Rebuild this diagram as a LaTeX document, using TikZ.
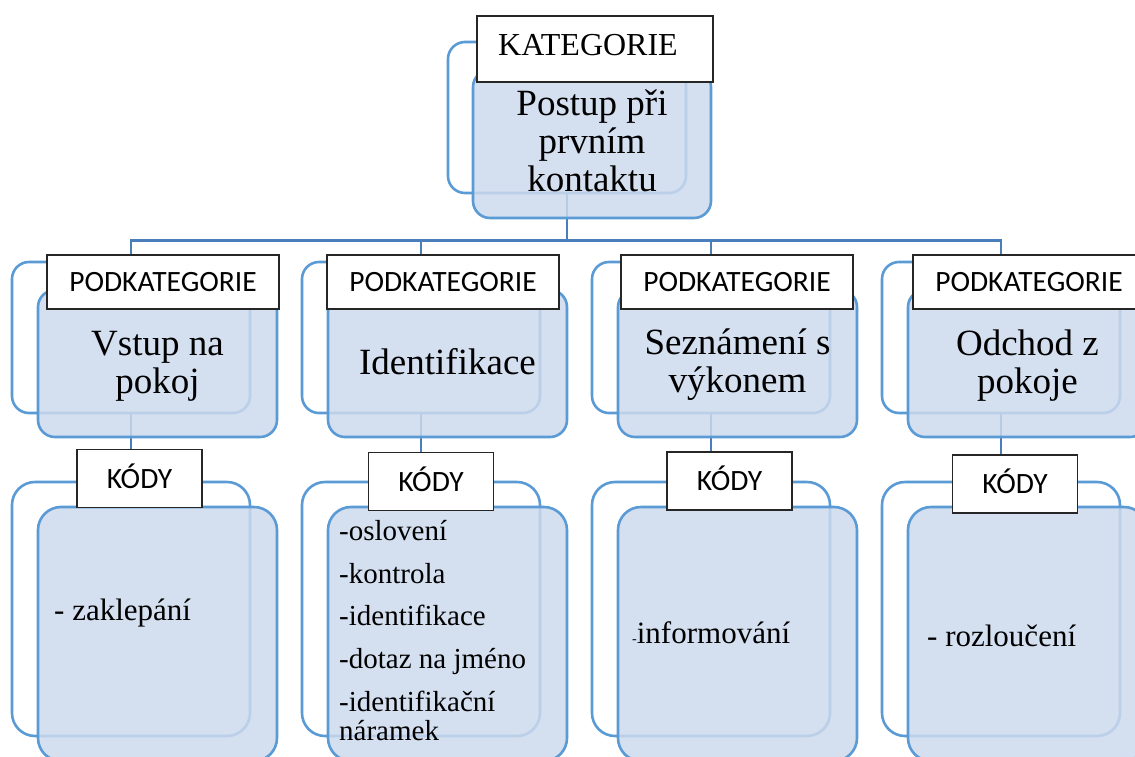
\documentclass[tikz,border=0pt]{standalone}
\usepackage{fontspec}
\setmainfont{Liberation Serif}
\newfontfamily\labelfont{Carlito}
\definecolor{linkblue}{RGB}{74,126,187}
\definecolor{edgeblue}{RGB}{91,155,213}
\definecolor{fillblue}{RGB}{204,217,237}
\tikzset{
  link/.style={draw=linkblue, line width=2.8pt},
  backbox/.style={rectangle, draw=edgeblue, line width=2.6pt, rounded corners=17pt,
    minimum width=238pt, inner sep=0pt},
  frontbox/.style={rectangle, draw=edgeblue, line width=2.6pt, rounded corners=17pt,
    fill=fillblue, fill opacity=0.85, minimum width=239pt, inner sep=0pt},
  tag/.style={rectangle, draw=black!85, line width=1.3pt, fill=white, inner sep=0pt,
    font=\labelfont\fontsize{29.5}{32}\selectfont, text height=19pt, text depth=0pt},
  big/.style={font=\fontsize{37}{38}\selectfont, align=center, inner sep=0pt},
  code/.style={inner sep=0pt, anchor=base west},
}
\begin{document}
\begin{tikzpicture}[x=1pt,y=-1pt]
\useasboundingbox (0,0) rectangle (1135,756);
\clip (0,0) rectangle (1135,756);

% category: outline behind, filled box in front, label on top
\node[backbox, minimum height=151pt] (catB) at (567,117.5) {};

% sub-categories and code groups, back outlines
\foreach \i/\L in {1/131, 2/421, 3/711, 4/1001} {
  \node[backbox, minimum height=151pt] (p\i B) at (\L,337.5) {};
  \node[backbox, rounded corners=23pt, minimum height=254pt] (k\i B) at (\L,609) {};
}

% connectors
\draw[link] (catB.south) -- ++(0,46) coordinate (bus);
\foreach \i in {1,2,3,4} {
  \draw[link] (bus) -| (p\i B.north);
  \draw[link] (p\i B.south) -- (k\i B.north);
}

% filled front boxes
\node[frontbox, minimum width=238pt, minimum height=148pt] (catF) at (592,144) {};
\foreach \i/\L in {1/131, 2/421, 3/711, 4/1001} {
  \node[frontbox, minimum height=147pt] (p\i F) at (\L+26.5,363.5) {};
  \node[frontbox, rounded corners=23pt, minimum height=254pt] (k\i F) at (\L+26.5,634) {};
}

% labels
\node[tag, minimum width=236pt, minimum height=66pt] (catL) at (595,49) {};
\node[inner sep=0pt, anchor=base, font=\fontsize{32}{32}\selectfont] (catLt) at (588,55) {KATEGORIE};
\foreach \i/\tx/\kx/\ky in {1/163/139.5/478.5, 2/443/431/481.5, 3/737/729.5/481, 4/1029/1015/484} {
  \node[tag, minimum width=232pt, minimum height=54pt] (p\i L) at (\tx,282) {PODKATEGORIE};
  \node[tag, minimum width=125pt, minimum height=58pt] (k\i L) at (\kx,\ky) {KÓDY};
}

% box titles
\node[big, anchor=north] (catT) at (592,83) {\rule{0pt}{32pt}Postup při\\prvním\\kontaktu};
\node[big, anchor=north] (p1T) at (157.5,323) {\rule{0pt}{32pt}Vstup na\\pokoj};
\node[big, anchor=base] (p2T) at (447.5,374) {Identifikace};
\node[big, anchor=north] (p3T) at (737.5,322) {\rule{0pt}{32pt}Seznámení s\\výkonem};
\node[big, anchor=north] (p4T) at (1027.5,323) {\rule{0pt}{32pt}Odchod z\\pokoje};

% codes
\node[code, font=\fontsize{31}{31}\selectfont] (c1) at (54,620) {- zaklepání};
\begin{scope}[font=\fontsize{29}{29}\selectfont]
\node[code] (c2a) at (339,540) {-oslovení};
\node[code] (c2b) at (339,583) {-kontrola};
\node[code] (c2c) at (339,625) {-identifikace};
\node[code] (c2d) at (339,668) {-dotaz na jméno};
\node[code] (c2e) at (339,711) {-identifikační};
\node[code] (c2f) at (339,740) {náramek};
\end{scope}
\node[code, font=\fontsize{31}{31}\selectfont] (c3) at (632,643) {{\fontsize{14}{14}\selectfont -}informování};
\node[code, font=\fontsize{31}{31}\selectfont] (c4) at (927,646) {- rozloučení};
\end{tikzpicture}
\end{document}
